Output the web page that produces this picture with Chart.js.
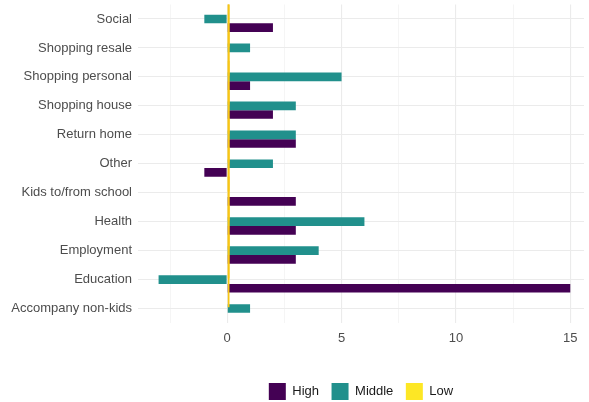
<!DOCTYPE html>
<html>
<head>
<meta charset="utf-8">
<script src="https://cdn.jsdelivr.net/npm/chart.js@4"></script>
<style>
  html, body { margin: 0; padding: 0; background: #ffffff; }
</style>
</head>
<body>
<canvas id="chart" width="589" height="402"></canvas>
<script>
// categories top to bottom
const categories = ['Social', 'Shopping resale', 'Shopping personal', 'Shopping house', 'Return home',
  'Other', 'Kids to/from school', 'Health', 'Employment', 'Education', 'Accompany non-kids'];
const highValues = [2, null, 1, 2, 3, -1, 3, 3, 3, 15, null];
const middleValues = [-1, 1, 5, 3, 3, 2, null, 6, 4, -3, 1];
const lowValues = [0.1, 0.1, 0.1, 0.1, 0.1, 0.1, 0.1, 0.1, 0.1, 0.1, null];
const xTicks = [-2.5, 0, 2.5, 5, 7.5, 10, 12.5, 15];

const legendColors = { High: '#440154', Middle: '#21908C', Low: '#FDE725' };

Chart.defaults.font.family = '"Liberation Sans", Arial, sans-serif';
Chart.defaults.font.size = 13;

// legend height fix so the keys sit near the bottom edge
const legendFit = {
  id: 'legendFit',
  beforeLayout(chart) {
    const lg = chart.legend;
    if (!lg || lg._patched) return;
    const fit = lg.fit;
    lg.fit = function () {
      fit.call(this);
      this.height = 31.5;
    };
    lg._patched = true;
  }
};

new Chart(document.getElementById('chart'), {
  type: 'bar',
  data: {
    labels: categories,
    datasets: [
      { label: 'High', data: highValues, backgroundColor: '#440154', order: 3,
        categoryPercentage: 0.9, barPercentage: 1 },
      { label: 'Middle', data: middleValues, backgroundColor: '#21908C', order: 2,
        categoryPercentage: 0.9, barPercentage: 1 },
      { label: 'Low', data: lowValues, backgroundColor: '#F7C516', order: 1,
        categoryPercentage: 0.9, barPercentage: 8.4, clip: 0 }
    ]
  },
  options: {
    indexAxis: 'y',
    responsive: false,
    animation: false,
    layout: { padding: { top: 4.5, right: 5, left: 0, bottom: 0 } },
    scales: {
      x: {
        type: 'linear',
        min: -3.9,
        max: 15.6,
        afterBuildTicks: s => { s.ticks = xTicks.map(v => ({ value: v })); },
        afterFit: s => { s.height = 47.5; s.paddingLeft = 0; s.paddingRight = 0; },
        border: { display: false },
        grid: {
          drawTicks: false,
          color: c => (c.tick && c.tick.value % 5 === 0) ? '#EBEBEB' : '#F3F3F3',
          lineWidth: c => (c.tick && c.tick.value % 5 === 0) ? 1.1 : 0.8
        },
        ticks: {
          color: '#4D4D4D',
          padding: 8,
          maxRotation: 0,
          autoSkip: false,
          callback: v => (v % 5 === 0 ? String(v) : '')
        }
      },
      y: {
        offset: true,
        afterFit: s => { s.width = 138; s.paddingTop = 0; s.paddingBottom = 0; },
        border: { display: false },
        grid: { offset: false, drawTicks: false, color: '#EBEBEB', lineWidth: 1.1 },
        ticks: { color: '#4D4D4D', padding: 6, autoSkip: false }
      }
    },
    plugins: {
      legend: {
        position: 'bottom',
        fullSize: false,
        labels: {
          boxWidth: 17,
          boxHeight: 17,
          padding: 12.5,
          color: '#1A1A1A',
          generateLabels: chart => {
            const items = Chart.defaults.plugins.legend.labels.generateLabels(chart);
            items.forEach(it => { it.fillStyle = legendColors[it.text]; it.lineWidth = 0; });
            return items;
          },
          sort: (a, b) => a.datasetIndex - b.datasetIndex
        }
      },
      tooltip: { enabled: false }
    }
  },
  plugins: [legendFit]
});
</script>
</body>
</html>
